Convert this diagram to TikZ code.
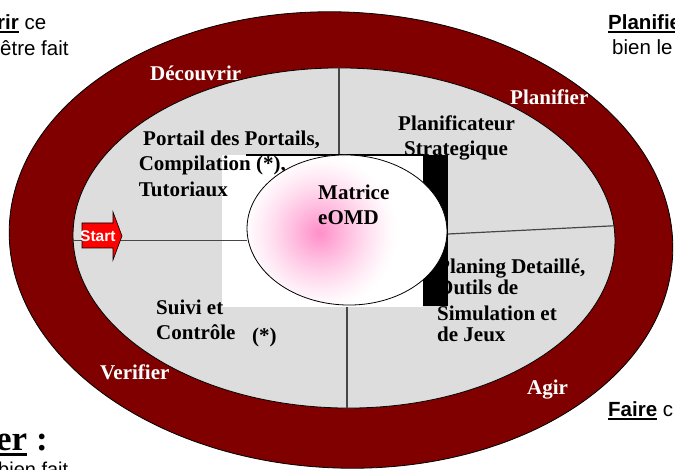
\documentclass[tikz,border=0pt]{standalone}
\usepackage{fontspec}
\setmainfont{Liberation Serif}
\newfontfamily\sansf{Liberation Sans}
\definecolor{maroonc}{RGB}{128,0,0}
\definecolor{grayc}{RGB}{221,221,221}
\definecolor{linec}{RGB}{70,70,70}
\definecolor{pinkc}{RGB}{255,140,200}
\newcommand\myul[3]{\setbox0\hbox{#3}\rlap{\rule[#1]{\wd0}{#2}}\box0\relax}
\tikzset{
  lbl/.style={font=\bfseries\fontsize{21}{25}\selectfont, anchor=base west, inner sep=0pt},
  band/.style={lbl, text=white},
  side/.style={font=\sansf\fontsize{20.5}{24}\selectfont, anchor=base west, inner sep=0pt},
  divider/.style={draw=linec, line width=1.2pt},
}
\begin{document}
\begin{tikzpicture}[x=1pt,y=-1pt]
\useasboundingbox (0,0) rectangle (675,470);
% rings
\filldraw[fill=maroonc, draw=black, line width=0.8pt, rotate around={-2.5:(341,240)}]
  (341,240) ellipse [x radius=332, y radius=228];
\filldraw[fill=grayc, draw=black, line width=0.8pt, rotate around={-1:(344,238)}]
  (344,238) ellipse [x radius=271, y radius=170];
% white square behind centre
\fill[white] (222,155) rectangle (423,307);
% dividers
\begin{scope}
  \clip[rotate around={-1:(344,238)}] (344,238) ellipse [x radius=271, y radius=170];
  \draw[divider] (339,40) -- (339,155);
  \draw[draw=black, line width=1.3pt] (246,155) -- (424,155);
  \draw[divider] (40,240.5) -- (247,240.5);
  \draw[divider] (448,234) -- (650,224);
  \draw[divider] (347,307) -- (347,440);
\end{scope}
% sector texts
\node[lbl] (p1) at (143,145.5) {Portail des Portails,};
\node[lbl] (p2) at (138.6,170.5) {Compilation (*),};
\node[lbl] (p3) at (138.6,196.5) {Tutoriaux};
\node[lbl] (s1) at (398,130.5) {Planificateur};
\node[lbl] (s2) at (404,155.5) {Strategique};
\node[lbl] (d1) at (437,273.3) {Planing Detaillé,};
\node[lbl] (d2) at (437,294.5) {Outils de};
\node[lbl] (d3) at (437,320.3) {Simulation et};
\node[lbl] (d4) at (437,341.7) {de Jeux};
\node[lbl] (c1) at (156,315) {Suivi et};
\node[lbl] (c2) at (156,340) {Contrôle};
\node[lbl] (c3) at (252,343) {(*)};
% black bar
\fill[black] (423,155) rectangle (448,306);
% centre ball
\begin{scope}
  \clip[rotate around={-2:(347,230)}] (347,230) ellipse [x radius=100, y radius=75];
  \fill[white] (240,150) rectangle (455,310);
  \foreach \i in {0,...,51} {
    \pgfmathsetmacro\rr{78-1.5*\i}
    \pgfmathsetmacro\pp{100*(1-\rr/78)^1.3}
    \fill[pinkc!\pp!white] (320,233) circle (\rr);
  }
\end{scope}
\draw[black, line width=0.8pt, rotate around={-2:(347,230)}] (347,230) ellipse [x radius=100, y radius=75];
\node[lbl] (m1) at (318,200) {Matrice};
\node[lbl] (m2) at (318,224.5) {eOMD};
% start arrow
\filldraw[fill=red, draw=black, line width=0.6pt]
  (82,223) -- (113,223) -- (113,212) -- (122,236) -- (113,260) -- (113,248) -- (82,248) -- cycle;
\node[font=\sansf\bfseries\fontsize{15.5}{18}\selectfont, text=white, anchor=base west, inner sep=0pt]
  (start) at (80,242) {Start};
% band labels
\node[band] (b1) at (150,81) {Découvrir};
\node[band] (b2) at (510,104.5) {Planifier};
\node[band] (b3) at (100,380) {Verifier};
\node[band] (b4) at (527,395) {Agir};
% side texts
\node[side] (t1) at (-3,30) {\myul{-3.2pt}{2.2pt}{\bfseries rir} ce};
\node[side] (t2) at (0,56) {être fait};
\node[side] (t3) at (608,30) {\myul{-3.2pt}{2.2pt}{\bfseries Planifie}};
\node[side] (t4) at (612,55) {bien le};
\node[side] (t5) at (608,417) {\myul{-3.2pt}{2.2pt}{\bfseries Faire} c};
\node[font=\bfseries\fontsize{35}{40}\selectfont, anchor=base west, inner sep=0pt]
  (t6) at (-4,450) {\myul{-6pt}{3pt}{er} :};
\node[side, font=\sansf\fontsize{20}{24}\selectfont] (t7) at (-2,476) {bien fait};
\end{tikzpicture}
\end{document}
